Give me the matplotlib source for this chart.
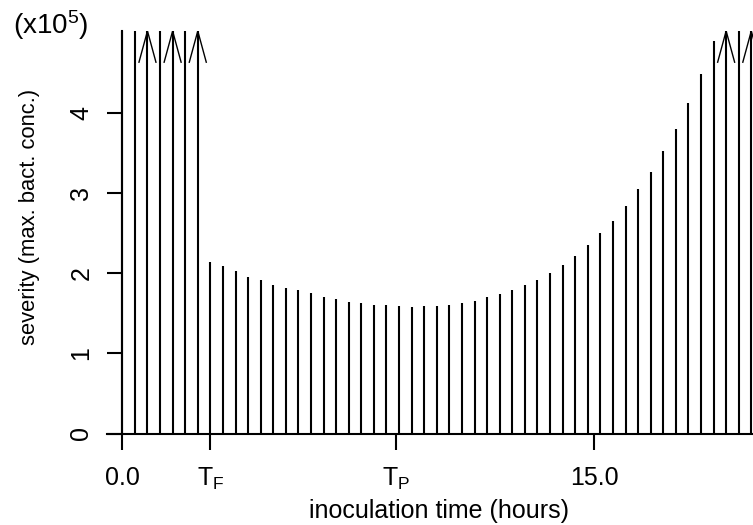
### Severity of infection against inoculation time (stick plot, R style)

import numpy as np
import matplotlib
matplotlib.use('Agg')
import matplotlib.pyplot as plt

plt.rcParams['font.family'] = ['Liberation Sans', 'DejaVu Sans']
plt.rcParams['mathtext.fontset'] = 'custom'
plt.rcParams['mathtext.rm'] = 'Liberation Sans'
plt.rcParams['mathtext.it'] = 'Liberation Sans:italic'

# inoculation times (hours), one stick every 0.4 h
times = np.round(np.arange(0, 20.01, 0.4), 1)

# severity (x10^5), np.inf = off the scale (drawn to the top)
severity = np.array([np.inf] * 7 + [
    2.14, 2.09, 2.03, 1.96, 1.92, 1.86, 1.82, 1.79, 1.75, 1.71,
    1.68, 1.64, 1.63, 1.61, 1.60, 1.59, 1.58, 1.59, 1.59, 1.61,
    1.63, 1.65, 1.70, 1.74, 1.79, 1.85, 1.92, 2.00, 2.10, 2.22,
    2.35, 2.50, 2.65, 2.84, 3.05, 3.27, 3.53, 3.81, 4.13, 4.49,
    4.90] + [np.inf] * 3)

# sticks that get an arrow head
arrow_times = [0.8, 1.6, 2.4, 19.2, 20.0]

# axis ticks
x_ticks = [0.0, 2.8, 8.7, 15.0]
x_tick_labels = ['0.0', r'$\mathrm{T_F}$', r'$\mathrm{T_P}$', '15.0']
y_ticks = [0, 1, 2, 3, 4]
y_tick_labels = ['0', '1', '2', '3', '4']

W, H = 753, 525
fig = plt.figure(figsize=(W / 100, H / 100), dpi=100)
ax = fig.add_axes([107 / W, 1 - 433.5 / H, 646 / W, 402.5 / H])

y_top = 5.03
ax.set_xlim(-0.4865, 20.054)
ax.set_ylim(0, y_top)

# the sticks
ax.vlines(times, 0, np.minimum(severity, y_top), color='black', lw=1.5)

# arrow heads on the off-scale sticks
dx, dy = 0.27, 0.39
for t in arrow_times:
    ax.plot([t - dx, t, t + dx], [y_top - dy, y_top, y_top - dy],
            color='black', lw=1.0, solid_joinstyle='miter')

# axes, R style
for s in ['top', 'right']:
    ax.spines[s].set_visible(False)
ax.spines['left'].set_position(('data', 0))
ax.spines['left'].set_linewidth(1.5)
ax.spines['bottom'].set_linewidth(1.5)

ax.set_xticks(x_ticks)
ax.set_xticklabels(x_tick_labels, fontsize=18)
ax.set_yticks(y_ticks)
ax.set_yticklabels(y_tick_labels, fontsize=18, rotation=90, va='center')
ax.tick_params(axis='x', direction='out', length=11.5, width=1.5, pad=12)
ax.tick_params(axis='y', direction='out', length=10.8, width=1.5, pad=10)

fig.text(439 / W, 1 - 511 / H, 'inoculation time (hours)', fontsize=18,
         ha='center', va='center')
fig.text(30 / W, 1 - 217 / H, 'severity (max. bact. conc.)', fontsize=15.8,
         ha='center', va='center', rotation=90)
fig.text(51 / W, 1 - 25 / H, r'$\mathrm{(x10^{5})}$', fontsize=20,
         ha='center', va='center')

fig.savefig('out.png', dpi=100)
